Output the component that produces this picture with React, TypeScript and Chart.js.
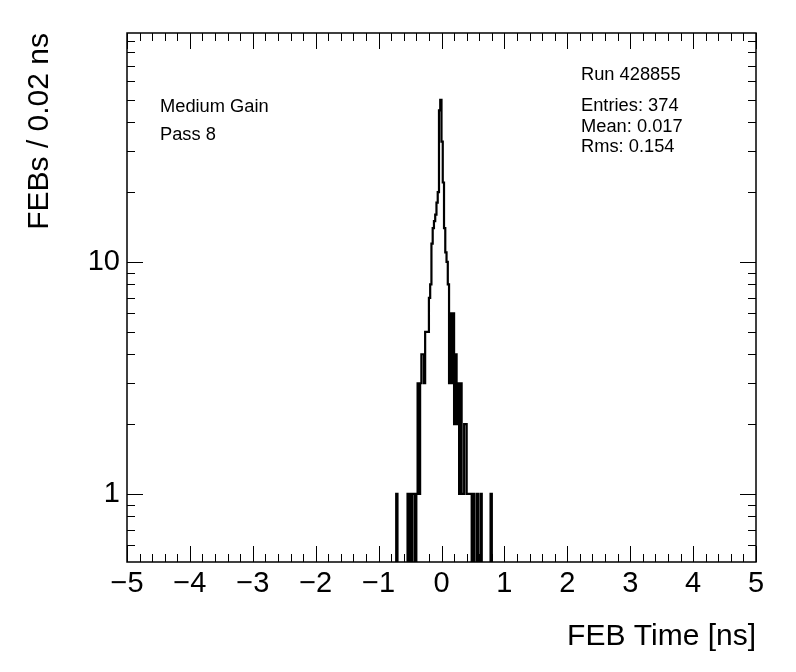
import React, { useEffect, useRef } from "react";
import { Chart, registerables } from "chart.js";

Chart.register(...registerables);

// Histogram: FEB time, 0.02 ns bins from -5 to 5 ns (non-empty bins only)
const binLowEdges = [
  -0.70, -0.52, -0.48, -0.44, -0.42, -0.38,
  -0.36, -0.34, -0.32, -0.30, -0.28, -0.26,
  -0.24, -0.22, -0.20, -0.18, -0.16, -0.14,
  -0.12, -0.10, -0.08, -0.06, -0.04, -0.02,
  0.00, 0.02, 0.04, 0.06, 0.08, 0.10,
  0.12, 0.14, 0.16, 0.18, 0.20, 0.22,
  0.24, 0.26, 0.28, 0.30, 0.32, 0.34,
  0.36, 0.38, 0.40, 0.42, 0.44, 0.46,
  0.48, 0.52, 0.58, 0.64, 0.80,
];
const binCounts = [
  1, 1, 1, 1, 1, 1,
  3, 1, 3, 4, 4, 3,
  5, 5, 5, 7, 8, 12,
  14, 15, 16, 18, 20, 45,
  50, 33, 22, 14, 11, 10,
  8, 3, 6, 3, 6, 2,
  4, 2, 3, 1, 3, 1,
  1, 2, 2, 1, 1, 1,
  1, 1, 1, 1, 1,
];

const xMin = -5;
const xMax = 5;
const binWidth = 0.02;
const yMin = 0.509;
const yMax = 97;
const xTickValues = [-5, -4, -3, -2, -1, 0, 1, 2, 3, 4, 5];
const yTickValues = [1, 10];
const yMinorValues = [0.6, 0.7, 0.8, 0.9, 2, 3, 4, 5, 6, 7, 8, 9, 20, 30, 40, 50, 60, 70, 80, 90];

const xTitle = "FEB Time [ns]";
const yTitle = "FEBs / 0.02 ns";
const leftTexts = ["Medium Gain", "Pass 8"];
const runText = "Run 428855";
const statTexts = ["Entries: 374", "Mean: 0.017", "Rms: 0.154"];

const FONT = "'Liberation Sans', Arial, Helvetica, sans-serif";

function buildPoints() {
  const nBins = Math.round((xMax - xMin) / binWidth);
  const full = new Array(nBins).fill(0);
  binLowEdges.forEach((e, k) => {
    const i = Math.round((e - xMin) / binWidth);
    if (i >= 0 && i < nBins) full[i] += binCounts[k];
  });
  const pts: { x: number; y: number }[] = [];
  for (let i = 0; i < nBins; i++) {
    pts.push({ x: xMin + i * binWidth, y: full[i] > 0 ? full[i] : 0.1 });
  }
  pts.push({ x: xMax, y: full[nBins - 1] > 0 ? full[nBins - 1] : 0.1 });
  return pts;
}

const framePlugin = {
  id: "rootFrame",
  afterDatasetsDraw(chart: any) {
    const { ctx, chartArea: a, scales } = chart;
    const xs = scales.x;
    const ys = scales.y;
    ctx.save();
    ctx.strokeStyle = "#000";
    ctx.lineWidth = 1;
    const line = (x1: number, y1: number, x2: number, y2: number) => {
      ctx.beginPath();
      ctx.moveTo(x1, y1);
      ctx.lineTo(x2, y2);
      ctx.stroke();
    };
    // x ticks (bottom and top)
    for (let k = 0; k <= 50; k++) {
      const v = xMin + k * 0.2;
      const px = Math.round(xs.getPixelForValue(v)) + 0.5;
      const len = k % 5 === 0 ? 16 : 8;
      line(px, a.bottom, px, a.bottom - len);
      line(px, a.top, px, a.top + len);
    }
    // y ticks (left and right)
    const yTick = (v: number, len: number) => {
      const py = Math.round(ys.getPixelForValue(v)) + 0.5;
      line(a.left, py, a.left + len, py);
      line(a.right, py, a.right - len, py);
    };
    yTickValues.forEach((v) => yTick(v, 16));
    yMinorValues.forEach((v) => yTick(v, 8));
    // frame
    ctx.lineWidth = 1.5;
    ctx.strokeRect(a.left, a.top, a.right - a.left, a.bottom - a.top);
    ctx.restore();
  },
  afterDraw(chart: any) {
    const { ctx, chartArea: a } = chart;
    ctx.save();
    ctx.fillStyle = "#000";
    // axis titles
    ctx.font = `30px ${FONT}`;
    ctx.textAlign = "right";
    ctx.textBaseline = "middle";
    ctx.fillText(xTitle, a.right, 637);
    ctx.save();
    ctx.translate(40, a.top);
    ctx.rotate(-Math.PI / 2);
    ctx.textAlign = "right";
    ctx.fillText(yTitle, 0, 0);
    ctx.restore();
    // annotations
    ctx.font = `18.3px ${FONT}`;
    ctx.textAlign = "left";
    ctx.textBaseline = "middle";
    ctx.fillText(leftTexts[0], 160, 107);
    ctx.fillText(leftTexts[1], 160, 135);
    ctx.fillText(runText, 581, 75);
    statTexts.forEach((t, i) => ctx.fillText(t, 581, 106 + i * 20.5));
    ctx.restore();
  },
};

export default function App() {
  const ref = useRef<HTMLCanvasElement | null>(null);
  useEffect(() => {
    if (!ref.current) return;
    const chart = new Chart(ref.current, {
      type: "line",
      data: {
        datasets: [
          {
            data: buildPoints(),
            borderColor: "#000",
            borderWidth: 2.2,
            stepped: "after",
            pointRadius: 0,
            fill: false,
          },
        ],
      },
      options: {
        animation: false,
        responsive: false,
        devicePixelRatio: 1,
        layout: { padding: { top: 33, right: 40, left: 0, bottom: 0 } },
        plugins: { legend: { display: false }, tooltip: { enabled: false } },
        scales: {
          x: {
            type: "linear",
            min: xMin,
            max: xMax,
            grid: { display: false, drawTicks: false },
            border: { display: false },
            afterBuildTicks: (s: any) => {
              s.ticks = xTickValues.map((v) => ({ value: v }));
            },
            afterFit: (s: any) => {
              s.height = 110;
            },
            ticks: {
              maxRotation: 0,
              autoSkip: false,
              padding: 5,
              color: "#000",
              font: { family: FONT, size: 29 },
              callback: (v: any) => (Number(v) < 0 ? "\u2212" + Math.abs(Number(v)) : String(v)),
            },
          },
          y: {
            type: "logarithmic",
            min: yMin,
            max: yMax,
            grid: { display: false, drawTicks: false },
            border: { display: false },
            afterBuildTicks: (s: any) => {
              s.ticks = yTickValues.map((v) => ({ value: v }));
            },
            afterFit: (s: any) => {
              s.width = 127;
            },
            ticks: {
              padding: 7,
              color: "#000",
              autoSkip: false,
              font: { family: FONT, size: 29 },
              callback: (v: any) => String(v),
            },
          },
        },
      },
      plugins: [framePlugin],
    });
    return () => chart.destroy();
  }, []);
  return (
    <div style={{ position: "fixed", left: 0, top: 0, width: 796, height: 672, background: "#fff" }}>
      <canvas ref={ref} width={796} height={672} style={{ display: "block" }} />
    </div>
  );
}
